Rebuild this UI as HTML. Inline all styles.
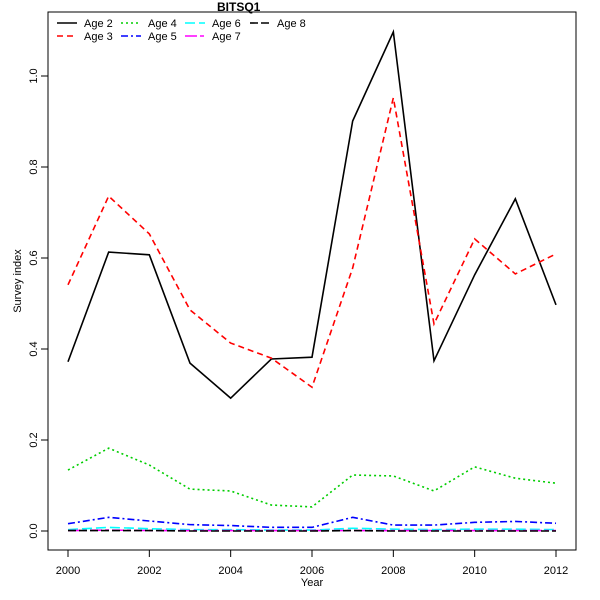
<!DOCTYPE html>
<html><head><meta charset="utf-8"><style>
body{margin:0;background:#fff}
svg{display:block;font-family:"Liberation Sans",sans-serif}
</style></head><body>
<svg id="chart" width="600" height="600">
<rect x="48" y="12" width="528" height="538" fill="none" stroke="#000"/>
<text x="217" y="11" font-size="12" font-weight="bold">BITSQ1</text>
<text x="312" y="586" font-size="11" text-anchor="middle">Year</text>
<text x="21" y="281" font-size="11" text-anchor="middle" transform="rotate(-90 21 281)">Survey index</text>
<g id="axes"></g><g id="series"></g><g id="legend"></g>
</svg>
<script>
const years=[2000,2001,2002,2003,2004,2005,2006,2007,2008,2009,2010,2011,2012];
const age2=[0.372,0.613,0.607,0.369,0.292,0.378,0.382,0.901,1.097,0.374,0.563,0.730,0.497];
const age3=[0.541,0.736,0.653,0.486,0.413,0.380,0.316,0.578,0.952,0.455,0.642,0.565,0.609];
const age4=[0.134,0.182,0.145,0.092,0.088,0.057,0.053,0.123,0.121,0.088,0.141,0.116,0.105];
const age5=[0.016,0.030,0.022,0.014,0.012,0.008,0.008,0.030,0.013,0.013,0.019,0.021,0.017];
const age6=[0.003,0.008,0.005,0.003,0.003,0.002,0.002,0.006,0.004,0.003,0.004,0.004,0.003];
const age7=[0.001,0.002,0.001,0.001,0.001,0.001,0.001,0.001,0.001,0.001,0.001,0.001,0.001];
const age8=[0.001,0.001,0.001,0.000,0.000,0.000,0.000,0.001,0.000,0.000,0.000,0.000,0.000];
const xTicks=[2000,2002,2004,2006,2008,2010,2012];
const yTicks=[0.0,0.2,0.4,0.6,0.8,1.0];
const ns="http://www.w3.org/2000/svg";
const X=v=>68+(v-2000)*(556-68)/12;
const Y=v=>531-v*455;
function mk(tag,attrs,parent){const e=document.createElementNS(ns,tag);for(const k in attrs)e.setAttribute(k,attrs[k]);parent.appendChild(e);return e;}
const axes=document.getElementById('axes');
mk('line',{x1:X(2000),x2:X(2012),y1:550,y2:550,stroke:'#000'},axes);
xTicks.forEach(t=>{
  const l=mk('line',{x1:X(t),x2:X(t),y1:550,y2:557,stroke:'#000'},axes);
  
  
  const tx=mk('text',{x:X(t),y:574,'font-size':11,'text-anchor':'middle'},axes);tx.textContent=t;
  
  
});
mk('line',{x1:48,x2:48,y1:Y(0),y2:Y(1),stroke:'#000'},axes);
yTicks.forEach(t=>{
  const l=mk('line',{x1:41,x2:48,y1:Y(t),y2:Y(t),stroke:'#000'},axes);
  
  
  const tx=mk('text',{x:37,y:Y(t),'font-size':11,'text-anchor':'middle',transform:`rotate(-90 37 ${Y(t)})`},axes);tx.textContent=t.toFixed(1);
  
  
});
const series=[
 {n:'Age 2',d:age2,c:'#000',da:''},
 {n:'Age 3',d:age3,c:'#ff0000',da:'6 4'},
 {n:'Age 4',d:age4,c:'#00cd00',da:'2 3'},
 {n:'Age 5',d:age5,c:'#0000ff',da:'7 3 2 3'},
 {n:'Age 6',d:age6,c:'#00ffff',da:'10 4'},
 {n:'Age 7',d:age7,c:'#ff00ff',da:'12 3 4 3'},
 {n:'Age 8',d:age8,c:'#000',da:'8 3'}];
const sg=document.getElementById('series');
series.forEach(s=>{
  const p=mk('polyline',{points:s.d.map((v,i)=>X(years[i])+','+Y(v)).join(' '),fill:'none',stroke:s.c,'stroke-width':1.6,'stroke-dasharray':s.da},sg);
  
  
});
const lg=document.getElementById('legend');
const pos=[[57,23],[57,36],[121,23],[121,36],[185,23],[185,36],[250,23]];
series.forEach((s,i)=>{
  const [lx,ly]=pos[i];
  const g=mk('g',{},lg);
  
  
  mk('line',{x1:lx,x2:lx+20,y1:ly,y2:ly,stroke:s.c,'stroke-width':1.6,'stroke-dasharray':s.da},g);
  const t=mk('text',{x:lx+27,y:ly+4,'font-size':11},g);t.textContent=s.n;
});
</script>
</body></html>
